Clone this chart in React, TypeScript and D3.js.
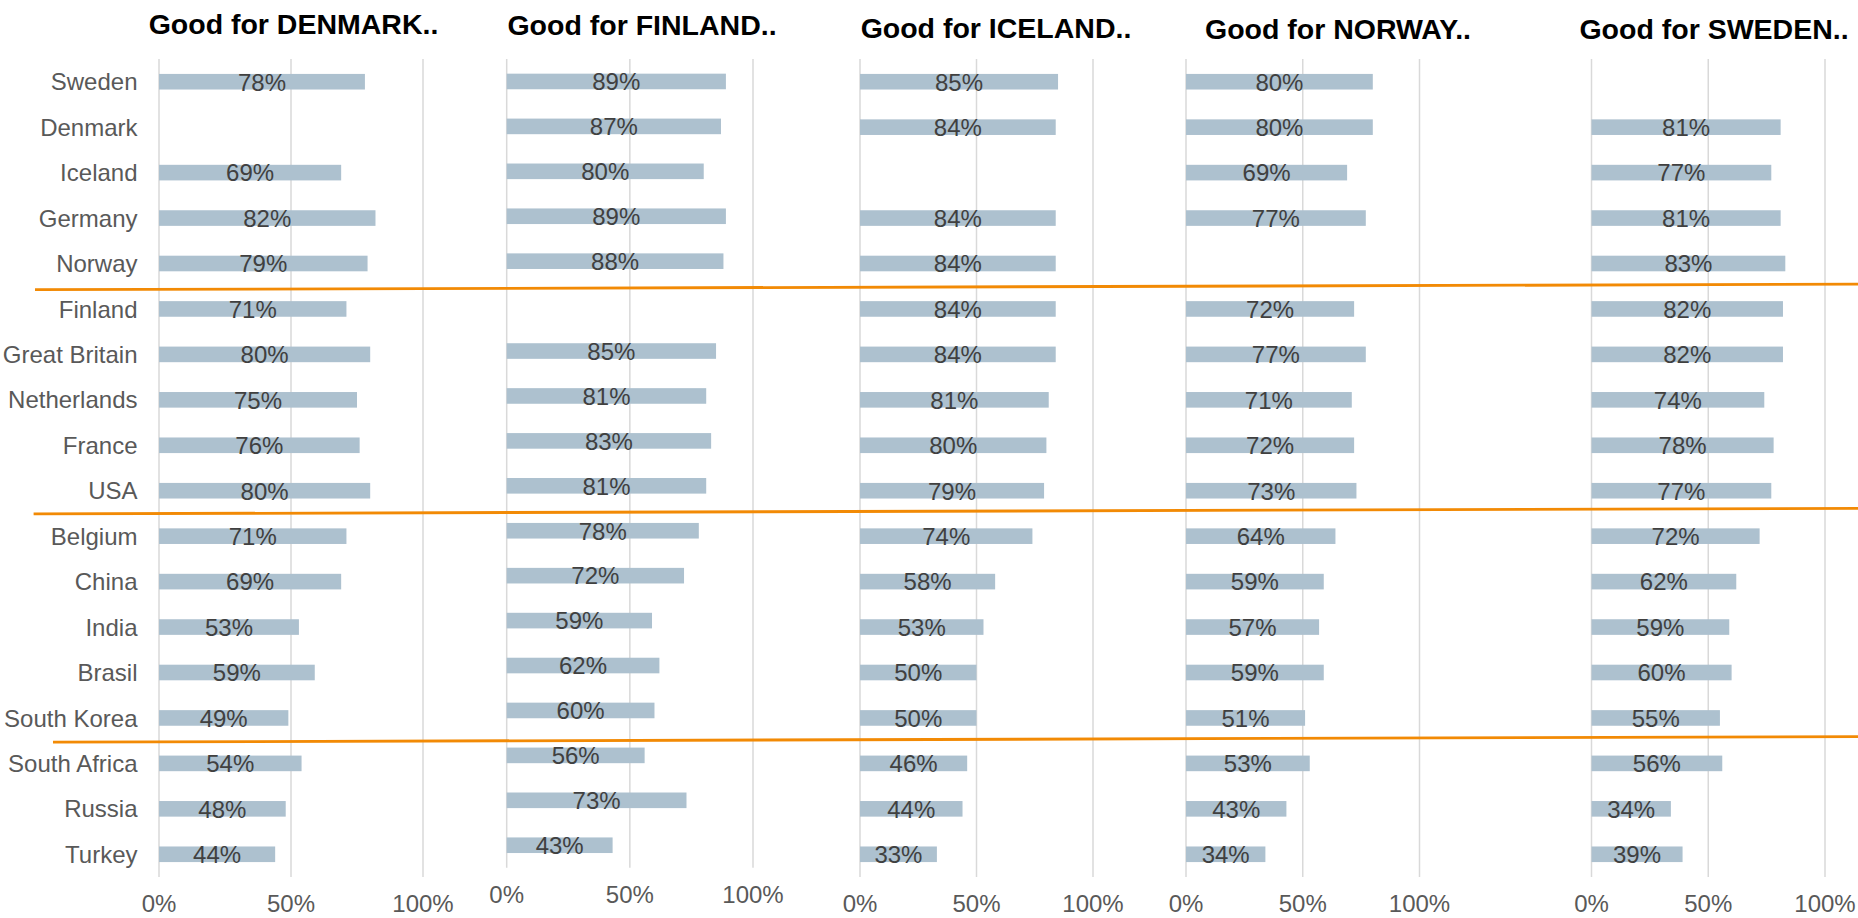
import { scaleLinear, scalePoint } from "d3"

const categories = [
  "Sweden", "Denmark", "Iceland", "Germany", "Norway",
  "Finland", "Great Britain", "Netherlands", "France", "USA",
  "Belgium", "China", "India", "Brasil", "South Korea",
  "South Africa", "Russia", "Turkey",
]

// null = the country itself (no bar)
const goodForDenmark = [78, null, 69, 82, 79, 71, 80, 75, 76, 80, 71, 69, 53, 59, 49, 54, 48, 44]
const goodForFinland = [89, 87, 80, 89, 88, null, 85, 81, 83, 81, 78, 72, 59, 62, 60, 56, 73, 43]
const goodForIceland = [85, 84, null, 84, 84, 84, 84, 81, 80, 79, 74, 58, 53, 50, 50, 46, 44, 33]
const goodForNorway = [80, 80, 69, 77, null, 72, 77, 71, 72, 73, 64, 59, 57, 59, 51, 53, 43, 34]
const goodForSweden = [null, 81, 77, 81, 83, 82, 82, 74, 78, 77, 72, 62, 59, 60, 55, 56, 34, 39]

const titles = [
  "Good for DENMARK..",
  "Good for FINLAND..",
  "Good for ICELAND..",
  "Good for NORWAY..",
  "Good for SWEDEN..",
]
const seriesList = [goodForDenmark, goodForFinland, goodForIceland, goodForNorway, goodForSweden]
const xTicks = [0, 50, 100]

// group separators drawn after these rows
const separatorsAfter = ["Norway", "USA", "South Korea"]

// layout of the five small charts (pixels)
const panels = [
  { x0: 159, x1: 423, top: 59, bottom: 877, titleX: 293.5, titleY: 33.5 },
  { x0: 506.7, x1: 753, top: 59, bottom: 867.7, titleX: 642, titleY: 35 },
  { x0: 860, x1: 1093, top: 59, bottom: 877, titleX: 996, titleY: 37.5 },
  { x0: 1186, x1: 1419.5, top: 59, bottom: 877, titleX: 1338, titleY: 39 },
  { x0: 1591.5, x1: 1825, top: 59, bottom: 877, titleX: 1714, titleY: 39 },
]
const sepLayout = [
  { left: 35, dl: 3.5, dr: -2 },
  { left: 33.6, dl: 0.5, dr: -5 },
  { left: 53, dl: 1.5, dr: -4 },
]

const W = 1858
const H = 918
const FONT = "'Liberation Sans', Arial, sans-serif"
const BAR_H = 15.6

export default function App() {
  // row scale of the first (labelled) chart, used for the separators
  const yMain = scalePoint<string>()
    .domain(categories)
    .range([panels[0].top, panels[0].bottom])
    .padding(0.5)
  const step = yMain.step()

  return (
    <svg
      width={W}
      height={H}
      style={{ position: "absolute", left: 0, top: 0, background: "#fff" }}
      fontFamily={FONT}
    >
      {panels.map((p, pi) => {
        const x = scaleLinear().domain([0, 100]).range([p.x0, p.x1])
        const y = scalePoint<string>()
          .domain(categories)
          .range([p.top, p.bottom])
          .padding(0.5)
        const values = seriesList[pi]
        return (
          <g key={pi}>
            {/* title */}
            <text
              x={p.titleX}
              y={p.titleY}
              textAnchor="middle"
              fontWeight="bold"
              fontSize={28.5}
              fill="#000"
            >
              {titles[pi]}
            </text>

            {/* gridlines */}
            {xTicks.map((t) => (
              <line
                key={t}
                x1={x(t)}
                x2={x(t)}
                y1={p.top}
                y2={p.bottom}
                stroke="#d9d9d9"
                strokeWidth={1.5}
              />
            ))}

            {/* axis labels */}
            {xTicks.map((t) => (
              <text
                key={"t" + t}
                x={x(t)}
                y={p.bottom + 35}
                textAnchor="middle"
                fontSize={24}
                fill="#595959"
              >
                {t}%
              </text>
            ))}

            {/* category labels only on the first chart */}
            {pi === 0 &&
              categories.map((c) => (
                <text
                  key={c}
                  x={137.5}
                  y={(y(c) ?? 0) + 8.6}
                  textAnchor="end"
                  fontSize={24}
                  fill="#595959"
                >
                  {c}
                </text>
              ))}

            {/* bars */}
            {categories.map((c, i) => {
              const v = values[i]
              if (v == null) return null
              const cy = y(c) ?? 0
              return (
                <g key={c}>
                  <rect
                    x={x(0)}
                    y={cy - BAR_H / 2}
                    width={x(v) - x(0)}
                    height={BAR_H}
                    fill="#adc1cf"
                  />
                  <text
                    x={(x(0) + x(v)) / 2}
                    y={cy + 8.8}
                    textAnchor="middle"
                    fontSize={24}
                    fill="#404040"
                  >
                    {v}%
                  </text>
                </g>
              )
            })}
          </g>
        )
      })}

      {/* orange separators between groups */}
      {separatorsAfter.map((c, i) => {
        const mid = (yMain(c) ?? 0) + step / 2
        const s = sepLayout[i]
        return (
          <line
            key={c}
            x1={s.left}
            x2={W}
            y1={mid + s.dl}
            y2={mid + s.dr}
            stroke="#f28a05"
            strokeWidth={2.8}
          />
        )
      })}
    </svg>
  )
}
